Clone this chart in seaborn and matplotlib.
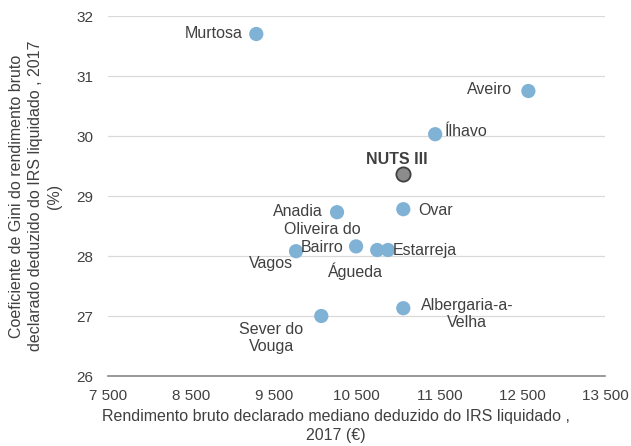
import matplotlib
matplotlib.use("Agg")
import matplotlib.pyplot as plt
import seaborn as sns
import pandas as pd
from matplotlib.ticker import FuncFormatter

municipios = ["Murtosa", "Aveiro", "Ílhavo", "Ovar", "Anadia", "Oliveira do\nBairro",
              "Águeda", "Estarreja", "Vagos", "Albergaria-a-\nVelha", "Sever do\nVouga"]
rendimento = [9290, 12575, 11450, 11065, 10265, 10495, 10750, 10880, 9770, 11065, 10075]
gini = [31.70, 30.75, 30.03, 28.78, 28.73, 28.16, 28.10, 28.10, 28.08, 27.13, 27.00]
nuts_label = "NUTS III"
nuts_x = 11065
nuts_y = 29.36

# label offsets in pixels (dx, dy), ha
offsets = {
    "Murtosa": (-14, 0, "right"),
    "Aveiro": (-16, 2, "right"),
    "Ílhavo": (10, 3, "left"),
    "Ovar": (15, -1, "left"),
    "Anadia": (-14, 1, "right"),
    "Oliveira do\nBairro": (-34, 8, "center"),
    "Águeda": (-22, -21, "center"),
    "Estarreja": (5, -1, "left"),
    "Vagos": (-25, -12, "center"),
    "Albergaria-a-\nVelha": (64, -6, "center"),
    "Sever do\nVouga": (-50, -22, "center"),
}

df = pd.DataFrame({"municipio": municipios, "rendimento": rendimento, "gini": gini})

sns.set_theme(style="white")
plt.rcParams["font.family"] = ["Liberation Sans", "DejaVu Sans"]

FS = 11.5
TFS = 11
W, H = 631, 446
L, R, T, B = 108, 605, 16, 376
fig = plt.figure(figsize=(W / 100, H / 100), dpi=100)
ax = fig.add_axes([L / W, 1 - B / H, (R - L) / W, (B - T) / H])

sns.scatterplot(data=df, x="rendimento", y="gini", ax=ax, s=105, color="#7FB2D5",
                edgecolor="none", zorder=3)
ax.scatter([nuts_x], [nuts_y], s=105, color="#8C8C8C", edgecolor="#404040",
           linewidth=1.3, zorder=4)

txtcol = "#404040"
for m, xv, yv in zip(municipios, rendimento, gini):
    dx, dy, ha = offsets[m]
    ax.annotate(m, (xv, yv), xytext=(dx, dy), textcoords="offset pixels",
                ha=ha, va="center", fontsize=FS, color=txtcol, linespacing=1.2)
ax.annotate(nuts_label, (nuts_x, nuts_y), xytext=(-6, 15), textcoords="offset pixels",
            ha="center", va="center", fontsize=FS, color=txtcol, fontweight="bold")

ax.set_xlim(7500, 13500)
ax.set_ylim(26, 32)
ax.set_xticks(range(7500, 13501, 1000))
ax.set_yticks(range(26, 33))
ax.xaxis.set_major_formatter(FuncFormatter(lambda v, p: f"{int(v):,}".replace(",", " ")))
ax.grid(axis="y", color="#D9D9D9", linewidth=0.9)
ax.set_axisbelow(True)
for s in ["top", "right", "left"]:
    ax.spines[s].set_visible(False)
ax.spines["bottom"].set_color("#888888")
ax.spines["bottom"].set_linewidth(1.2)
ax.tick_params(axis="both", length=0, labelsize=TFS, labelcolor=txtcol)
ax.tick_params(axis="y", pad=10.5)
ax.tick_params(axis="x", pad=9)

ax.set_xlabel("Rendimento bruto declarado mediano deduzido do IRS liquidado ,\n2017 (€)",
              fontsize=FS, color=txtcol, linespacing=1.3)
ax.xaxis.set_label_coords((336 - L) / (R - L), (B - 409) / (B - T))
ax.set_ylabel("Coeficiente de Gini do rendimento bruto\ndeclarado deduzido do IRS liquidado , 2017\n(%)",
              fontsize=FS, color=txtcol, linespacing=1.35)
ax.yaxis.set_label_coords((62 - L) / (R - L), 0.5)

fig.savefig("out.png", dpi=100)
